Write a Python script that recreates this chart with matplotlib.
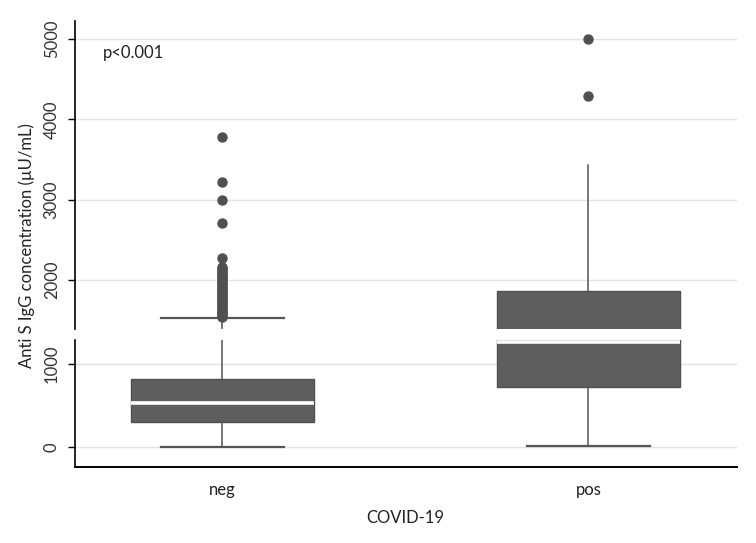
import matplotlib
matplotlib.use("Agg")
import matplotlib.pyplot as plt
from matplotlib.patches import Rectangle

plt.rcParams['font.family'] = ['Lato', 'DejaVu Sans']

categories = ["neg", "pos"]
q1 = [300, 723]
median = [530, 1265]
q3 = [818, 1865]
whisker_low = [0, 15]
whisker_high = [1530, 3430]
fliers_neg = [3780, 3220, 2990, 2710, 2270, 2160, 2140, 2120, 2100, 2080, 2060,
              2040, 2020, 2000, 1980, 1960, 1940, 1920, 1900, 1880, 1860, 1840,
              1820, 1800, 1780, 1760, 1740, 1720, 1700, 1680, 1660, 1640, 1620,
              1600, 1580, 1560, 1545]
fliers_pos = [4290, 5000]
fliers = [fliers_neg, fliers_pos]
top_ticks = [2000, 3000, 4000, 5000]
bottom_ticks = [0, 1000]

W, H = 756, 543
fig = plt.figure(figsize=(W / 100, H / 100), dpi=100)

left = 75 / W
width = 662 / W
ax_top = fig.add_axes([left, (H - 329) / H, width, 308 / H])
ax_bot = fig.add_axes([left, (H - 467) / H, width, 127 / H])

stats = []
for i, c in enumerate(categories):
    stats.append(dict(label=c, q1=q1[i], med=median[i], q3=q3[i],
                      whislo=whisker_low[i], whishi=whisker_high[i],
                      fliers=fliers[i]))

box_col = '#5e5e5e'
line_col = '#555555'
for ax in (ax_top, ax_bot):
    ax.set_axisbelow(True)
    art = ax.bxp(stats, positions=[1, 2], widths=0.5, patch_artist=True,
                 boxprops=dict(facecolor=box_col, edgecolor='#505050', linewidth=1),
                 medianprops=dict(color='white', linewidth=2.6),
                 whiskerprops=dict(color=line_col, linewidth=1.1),
                 capprops=dict(color=line_col, linewidth=1.6),
                 capwidths=0.335,
                 flierprops=dict(marker='o', markerfacecolor='#505050',
                                 markeredgecolor='#505050', markersize=6.5))
    art['caps'][3].set_visible(False)
    ax.set_xlim(0.598, 2.406)
    ax.grid(axis='y', color='#e3e3e3', linewidth=1)
    ax.spines['top'].set_visible(False)
    ax.spines['right'].set_visible(False)
    ax.spines['left'].set_linewidth(1.2)
    ax.tick_params(axis='y', length=5, width=1, labelsize=12,
                   labelcolor='#333333', labelrotation=90, pad=6)

ax_top.set_ylim(1390, 5224)
ax_top.set_yticks(top_ticks)
ax_top.spines['bottom'].set_visible(False)
ax_top.tick_params(axis='x', bottom=False, labelbottom=False)

ax_bot.set_ylim(-241, 1289)
ax_bot.set_yticks(bottom_ticks)
ax_bot.spines['bottom'].set_linewidth(1.4)
ax_bot.tick_params(axis='x', length=0, labelsize=12, labelcolor='#222222', pad=11)
ax_bot.set_xticks([1, 2])
ax_bot.set_xticklabels(categories)

for ax in (ax_top, ax_bot):
    for lab in ax.get_yticklabels():
        lab.set_va('center')

fig.text(103 / W, 1 - 53 / H, "p<0.001", ha='left', va='center',
         fontsize=12, color='#222222')
fig.text(27 / W, 1 - 246 / H, "Anti S IgG concentration (\u00b5U/mL)",
         rotation=90, ha='center', va='center', fontsize=12, color='#222222')
fig.text(405 / W, 1 - 518 / H, "COVID-19", ha='center', va='center',
         fontsize=12, color='#222222')

fig.patches.append(Rectangle((40 / W, (H - 339) / H), 1, 9 / H,
                             transform=fig.transFigure, facecolor='white',
                             edgecolor='none', zorder=10))

fig.savefig("out.png", dpi=100)
